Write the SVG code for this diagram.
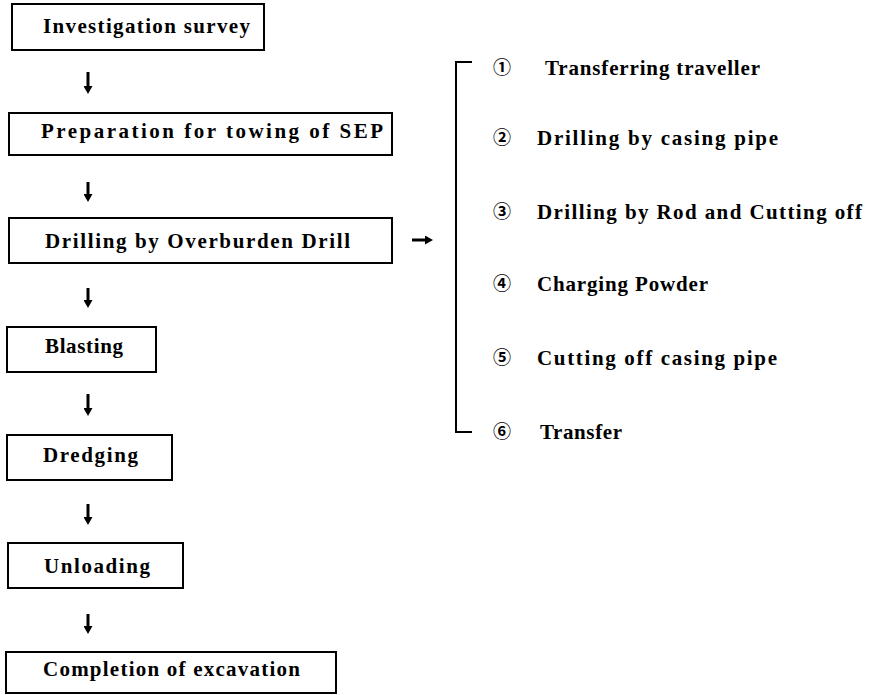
<svg xmlns="http://www.w3.org/2000/svg" width="879" height="695" viewBox="0 0 879 695">
<defs>
<marker id="ah" markerWidth="10" markerHeight="9" refX="0" refY="4.5" orient="auto" markerUnits="userSpaceOnUse">
<path d="M0,0 L8,4.5 L0,9 Z" fill="#000"/>
</marker>
<style>
.box{fill:#fff;stroke:#000;stroke-width:2}
.t{font-family:"Liberation Serif","DejaVu Serif",serif;font-weight:bold;font-size:21px;fill:#000}
.n{font-family:"Noto Sans CJK JP","DejaVu Sans",sans-serif;font-weight:bold;font-size:18px;fill:#000;text-anchor:middle}
.c{stroke:#000;stroke-width:3;fill:none}
.br{stroke:#000;stroke-width:2;fill:none}
</style>
</defs>
<rect width="879" height="695" fill="#fff"/>
<g id="connectors">
<line class="c" x1="88" y1="72" x2="88" y2="86" marker-end="url(#ah)"/>
<line class="c" x1="88" y1="182" x2="88" y2="194" marker-end="url(#ah)"/>
<line class="c" x1="88" y1="288" x2="88" y2="300" marker-end="url(#ah)"/>
<line class="c" x1="88" y1="394" x2="88" y2="408" marker-end="url(#ah)"/>
<line class="c" x1="88" y1="504" x2="88" y2="517" marker-end="url(#ah)"/>
<line class="c" x1="88" y1="614" x2="88" y2="626" marker-end="url(#ah)"/>
<line class="c" x1="412" y1="240" x2="425" y2="240" marker-end="url(#ah)"/>
<path class="br" d="M472,62 H456 V432 H472"/>
</g>
<g id="n1"><rect class="box" x="12" y="4" width="252" height="46"/><text class="t" x="43" y="33" textLength="207">Investigation survey</text></g>
<g id="n2"><rect class="box" x="9" y="113" width="383" height="42"/><text class="t" x="41" y="138" textLength="342">Preparation for towing of SEP</text></g>
<g id="n3"><rect class="box" x="9" y="218" width="383" height="45"/><text class="t" x="45" y="248" textLength="305">Drilling by Overburden Drill</text></g>
<g id="n4"><rect class="box" x="7" y="327" width="149" height="45"/><text class="t" x="45" y="353" textLength="78">Blasting</text></g>
<g id="n5"><rect class="box" x="7" y="435" width="165" height="45"/><text class="t" x="43" y="462" textLength="95">Dredging</text></g>
<g id="n6"><rect class="box" x="8" y="543" width="175" height="45"/><text class="t" x="44" y="573" textLength="106">Unloading</text></g>
<g id="n7"><rect class="box" x="6" y="652" width="330" height="41"/><text class="t" x="43" y="676" textLength="257">Completion of excavation</text></g>
<g id="s1"><text class="n" x="502" y="74">①</text><text class="t" x="545" y="75" textLength="215">Transferring traveller</text></g>
<g id="s2"><text class="n" x="502" y="144">②</text><text class="t" x="537" y="145" textLength="241">Drilling by casing pipe</text></g>
<g id="s3"><text class="n" x="502" y="218">③</text><text class="t" x="537" y="219" textLength="325">Drilling by Rod and Cutting off</text></g>
<g id="s4"><text class="n" x="502" y="290">④</text><text class="t" x="537" y="291" textLength="171">Charging Powder</text></g>
<g id="s5"><text class="n" x="502" y="364">⑤</text><text class="t" x="537" y="365" textLength="240">Cutting off casing pipe</text></g>
<g id="s6"><text class="n" x="502" y="438">⑥</text><text class="t" x="540" y="439" textLength="82">Transfer</text></g>
</svg>
